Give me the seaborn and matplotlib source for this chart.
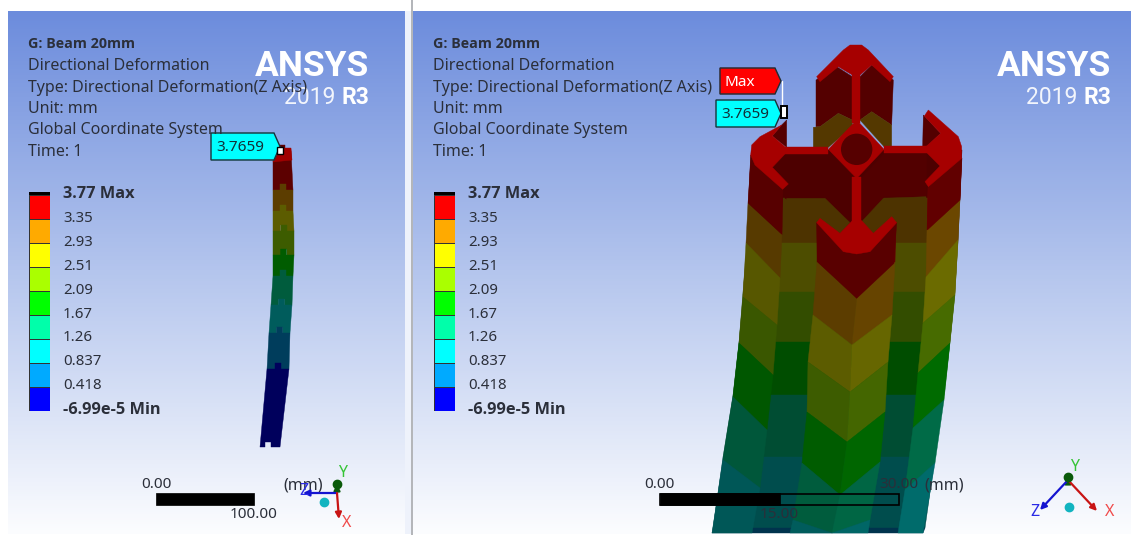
import numpy as np
import matplotlib
matplotlib.use("Agg")
import matplotlib.pyplot as plt
import seaborn as sns
from matplotlib.colors import LinearSegmentedColormap, ListedColormap
from matplotlib.patches import Polygon, Circle, Rectangle

sns.set_theme(style="white")
plt.rcParams["font.family"] = ["Noto Sans", "DejaVu Sans"]

W, H = 1131, 535
TEXT = "#2b2f3a"
BOLD_FONT = ["Open Sans", "DejaVu Sans"]

# =========================
# Data
# =========================
info_lines = [
    "Directional Deformation",
    "Type: Directional Deformation(Z Axis)",
    "Unit: mm",
    "Global Coordinate System",
    "Time: 1",
]
legend_labels = ["3.77 Max", "3.35", "2.93", "2.51", "2.09", "1.67", "1.26",
                 "0.837", "0.418", "-6.99e-5 Min"]
legend_values = [8, 7, 6, 5, 4, 3, 2, 1, 0]
contour_rgb = [(0, 0, 255), (0, 170, 255), (0, 255, 255), (0, 255, 170), (0, 255, 0),
               (170, 255, 0), (255, 255, 0), (255, 170, 0), (255, 0, 0)]
RED, ORANGE, YELLOW, LIME, GREEN, SPRING, CYAN, AZURE, BLUE = 8, 7, 6, 5, 4, 3, 2, 1, 0
band_order = [RED, ORANGE, YELLOW, LIME, GREEN, SPRING, CYAN, AZURE, BLUE]
max_probe = "3.7659"

# big beam: band limits per face, (left x, left y, right x, right y)
face_a = [(751, 155, 783, 189), (748, 203, 782, 235), (746, 243, 780, 278), (743, 297, 777, 325),
          (739, 343, 773, 375), (733, 397, 767, 430), (723, 460, 760, 488), (712, 533, 752, 533)]
face_e = [(928, 187, 962, 158), (927, 230, 960, 200), (926, 277, 958, 240), (923, 323, 955, 295),
          (918, 373, 950, 343), (913, 428, 944, 400), (905, 490, 935, 463), (898, 533, 923, 533)]
recess_y = [150, 198, 243, 292, 342, 395, 457, 528, 533]
recess_left = [752, 750, 747, 743, 739, 733, 723, 713, 712]
recess_right = [962, 960, 958, 955, 950, 944, 935, 925, 923]
chevron_left = [(817, 222), (817, 262), (813, 315), (808, 362), (807, 412), (802, 463), (793, 520), (790, 533)]
chevron_mid = [(857, 255), (857, 298), (852, 345), (850, 392), (847, 442), (840, 495), (832, 533), (832, 533)]
chevron_right = [(896, 222), (895, 262), (892, 315), (888, 362), (885, 412), (880, 462), (870, 520), (868, 533)]

# small beam: band top y, left x, right x
small_y = [148, 187, 208, 228, 252, 273, 302, 330, 366, 447]
small_left = [273, 273, 273, 273, 273, 273, 271, 269, 267, 260]
small_right = [291, 293, 293, 294, 294, 293, 292, 290, 289, 280]

# =========================
# Figure
# =========================
fig = plt.figure(figsize=(W / 100, H / 100), dpi=100, facecolor="white")


def px_axes(x0, y0, x1, y1, z=0):
    return fig.add_axes([x0 / W, 1 - y1 / H, (x1 - x0) / W, (y1 - y0) / H], zorder=z)


def backdrop(x0, x1):
    ax_bg = px_axes(x0, 11, x1, 534, 0)
    cmap = LinearSegmentedColormap.from_list("sky", ["#6c8cdc", "#b4c5ed", "#fbfcfe"])
    sns.heatmap(np.linspace(0, 1, 260).reshape(-1, 1), ax=ax_bg, cmap=cmap, vmin=0, vmax=1,
                cbar=False, xticklabels=False, yticklabels=False)
    ax_bg.set_xlabel("")
    ax_bg.set_ylabel("")


backdrop(8, 404.5)
backdrop(412.5, 1131)

ax = px_axes(0, 0, W, H, 2)
ax.set_xlim(0, W)
ax.set_ylim(H, 0)
ax.axis("off")
ax.patch.set_alpha(0)

ax.add_patch(Rectangle((404.5, 11), 6, 523, color="#eef2fb", lw=0))
ax.add_patch(Rectangle((410.5, 0), 2, H, color="#b4b6ba", lw=0))


def shade(idx, k):
    return tuple(c / 255 * k for c in contour_rgb[idx])


def poly(pts, color, z=3):
    ax.add_patch(Polygon(pts, closed=True, fc=color, ec=color, lw=0.3, zorder=z))


def crop(pts):
    # outlines traced on a 3x crop starting at (680, 30)
    return [(680 + x / 3, 30 + y / 3) for x, y in pts]


# -------------------------
# Big beam
# -------------------------
# back of the T flange
poly(crop([(408, 150), (470, 110), (517, 140), (517, 270), (475, 250), (420, 290), (408, 290)]), shade(RED, 0.33))
poly(crop([(540, 140), (575, 105), (640, 150), (635, 285), (575, 245), (540, 270)]), shade(RED, 0.33))
poly(crop([(400, 292), (420, 290), (475, 250), (517, 270), (517, 290), (445, 352), (400, 352)]), shade(ORANGE, 0.33))
poly(crop([(540, 270), (575, 245), (635, 285), (635, 350), (612, 350)]), shade(ORANGE, 0.33))
poly(crop([(277, 318), (305, 285), (320, 270), (320, 352)]), shade(RED, 0.33))
poly(crop([(730, 255), (782, 310), (740, 350), (728, 350)]), shade(RED, 0.33))

# recessed faces
for i in range(len(recess_y) - 1):
    idx = band_order[i]
    poly([(recess_left[i], recess_y[i]), (recess_right[i], recess_y[i]),
          (recess_right[i + 1], recess_y[i + 1]), (recess_left[i + 1], recess_y[i + 1])], shade(idx, 0.30))

# outer faces
for face, k in [(face_a, 0.34), (face_e, 0.42)]:
    for i in range(len(face) - 1):
        x0, y0, x1, y1 = face[i]
        x2, y2, x3, y3 = face[i + 1]
        poly([(x0, y0), (x1, y1), (x3, y3), (x2, y2)], shade(band_order[i], k), 4)

# front chevron
for i in range(len(chevron_mid) - 1):
    idx = band_order[i]
    poly([chevron_left[i], chevron_mid[i], chevron_mid[i + 1], chevron_left[i + 1]], shade(idx, 0.36), 5)
    poly([chevron_mid[i], chevron_right[i], chevron_right[i + 1], chevron_mid[i + 1]], shade(idx, 0.40), 5)

# webs under the front plate
poly(crop([(445, 372), (517, 445), (517, 575), (480, 610), (435, 560), (315, 505), (315, 372)]), shade(RED, 0.30), 4)
poly(crop([(612, 372), (543, 445), (543, 575), (580, 610), (612, 500), (740, 500), (740, 368)]), shade(RED, 0.32), 4)
poly(crop([(435, 505), (510, 578), (480, 610), (430, 570), (320, 590), (320, 505)]), shade(ORANGE, 0.30), 4)
poly(crop([(545, 575), (610, 505), (738, 500), (738, 590), (650, 620), (580, 610)]), shade(ORANGE, 0.30), 4)
poly(crop([(410, 578), (530, 672), (650, 578), (642, 700), (530, 805), (412, 695)]), shade(RED, 0.35), 5)
poly(crop([(212, 375), (308, 478), (303, 610), (205, 520)]), shade(RED, 0.34), 5)
poly(crop([(845, 385), (745, 470), (742, 600), (840, 510)]), shade(RED, 0.38), 5)

# front plate
plate = "#a60000"
plate_parts = [
    [(410, 140), (490, 60), (510, 45), (545, 45), (565, 60), (640, 140), (630, 155), (575, 105),
     (540, 135), (517, 135), (475, 110), (420, 155)],
    [(517, 130), (540, 130), (540, 280), (517, 280)],
    [(530, 270), (612, 358), (530, 445), (445, 358)],
    [(315, 350), (445, 350), (445, 372), (315, 372)],
    [(612, 348), (740, 348), (740, 368), (612, 368)],
    [(517, 440), (543, 440), (543, 580), (517, 580)],
    [(420, 565), (480, 610), (517, 572), (545, 572), (580, 610), (635, 560), (650, 578), (570, 665),
     (530, 672), (490, 665), (410, 578)],
    [(305, 285), (277, 318), (315, 350), (315, 372), (277, 412), (325, 462), (308, 478), (225, 405),
     (212, 375), (215, 345), (240, 320)],
    [(745, 240), (835, 320), (845, 350), (845, 385), (745, 470), (735, 455), (780, 408), (740, 368),
     (740, 348), (782, 310), (733, 258)],
]
for part in plate_parts:
    poly(crop(part), plate, 6)
ax.add_patch(Circle((680 + 530 / 3, 30 + 358 / 3), 15, fc="#560000", ec="#560000", zorder=7))

# -------------------------
# Small beam
# -------------------------
for i in range(len(small_y) - 1):
    xl0, xr0 = small_left[i], small_right[i]
    xl1, xr1 = small_left[i + 1], small_right[i + 1]
    xc = (xl0 + xr0) / 2
    xc1 = (xl1 + xr1) / 2
    top = [(xl0, small_y[i] + 3), (xc - 3, small_y[i] + 3), (xc - 3, small_y[i] - 3),
           (xc + 3, small_y[i] - 3), (xc + 3, small_y[i] + 3), (xr0, small_y[i] + 3)]
    bottom = [(xr1, small_y[i + 1] + 3), (xc1 + 3, small_y[i + 1] + 3), (xc1 + 3, small_y[i + 1] - 3),
              (xc1 - 3, small_y[i + 1] - 3), (xc1 - 3, small_y[i + 1] + 3), (xl1, small_y[i + 1] + 3)]
    if i == len(small_y) - 2:
        bottom = [(xr1, small_y[i + 1]), (xc1 + 1, small_y[i + 1]), (xc1 + 1, small_y[i + 1] - 5),
                  (xc1 - 5, small_y[i + 1] - 5), (xc1 - 5, small_y[i + 1]), (xl1, small_y[i + 1])]
    poly(top + bottom, shade(band_order[i], 0.36), 3)
poly([(276, 148), (291, 148), (292, 160), (273, 162)], "#a00000", 4)


# -------------------------
# Overlays shared by both views
# -------------------------
def info_block(x):
    ax.text(x, 44.5, "G: Beam 20mm", fontsize=10.3, fontweight="bold", family=BOLD_FONT, color=TEXT,
            va="center", zorder=9)
    for j, line in enumerate(info_lines):
        ax.text(x, 66.5 + j * 21.3, line, fontsize=11.5, color=TEXT, va="center", zorder=9)


def contour_legend(x):
    ax_leg = px_axes(x, 195, x + 21, 410.5, 3)
    sns.heatmap(np.array(legend_values).reshape(-1, 1), ax=ax_leg, cbar=False,
                cmap=ListedColormap([tuple(c / 255 for c in rgb) for rgb in contour_rgb]),
                vmin=-0.5, vmax=8.5, linewidths=0.5, linecolor="#333333",
                xticklabels=False, yticklabels=False)
    ax_leg.set_xlabel("")
    ax_leg.set_ylabel("")
    ax.add_patch(Rectangle((x, 192), 21, 3, color="black", lw=0, zorder=8))
    for j, label in enumerate(legend_labels):
        if j in (0, len(legend_labels) - 1):
            ax.text(x + 34, 194.5 + j * 23.9, label, fontsize=11.8, color=TEXT, va="center",
                    fontweight="bold", family=BOLD_FONT, zorder=9)
        else:
            ax.text(x + 34, 194.5 + j * 23.9, label, fontsize=10.8, color=TEXT, va="center", zorder=9)


def logo(x_right):
    ax.text(x_right, 67, "ANSYS", fontsize=25.5, fontweight="bold", color="white", ha="right", va="center",
            family=["Roboto"], zorder=8)
    ax.text(x_right, 98, "R3", fontsize=16.5, fontweight="bold", color="white", ha="right", va="center",
            family=["Roboto"], zorder=8)
    ax.text(x_right - 34, 98, "2019", fontsize=16.5, color="white", ha="right", va="center",
            family=["Roboto"], alpha=0.9, zorder=8)


def callout(x0, x1, y0, y1, fc, label, tc):
    outline = [(x0, y0), (x1 - 6, y0), (x1, (y0 + y1) / 2), (x1 - 6, y1), (x0, y1)]
    poly(outline, fc, 8)
    ax.add_patch(Polygon(outline, closed=True, fc="none", ec="#1c3038", lw=1, zorder=8))
    ax.text(x0 + 5, (y0 + y1) / 2 + 1, label, fontsize=11, color=tc, va="center", zorder=9)


for px, right in [(28, 369), (433, 1111)]:
    info_block(px)
    logo(right)
contour_legend(29)
contour_legend(434)

callout(211, 280, 133, 160, "#00ffff", max_probe, "#123038")
ax.add_patch(Rectangle((277, 147), 6, 7, fc="white", ec="black", lw=1, zorder=8))

callout(720, 781, 68, 94, "#ff0000", "Max", "white")
callout(716, 781, 100, 127, "#00ffff", max_probe, "#123038")
ax.plot([782, 782], [81, 112], color="white", lw=1, zorder=8)
ax.add_patch(Rectangle((781, 106), 6, 12, fc="white", ec="black", lw=1.4, zorder=8))

# scale bars
ax.add_patch(Rectangle((156, 493), 98, 12, fc="black", ec="black", lw=0.5, zorder=8))
ax.text(156, 484, "0.00", fontsize=11, color=TEXT, ha="center", va="center", zorder=9)
ax.text(254, 515, "100.00", fontsize=11, color=TEXT, ha="center", va="center", zorder=9)
ax.text(303, 485, "(mm)", fontsize=11.5, color=TEXT, ha="center", va="center", zorder=9)

ax.add_patch(Rectangle((660, 493.5), 239, 11, fc="none", ec="black", lw=1.2, zorder=8))
ax.add_patch(Rectangle((660, 493), 120, 12, fc="black", ec="black", lw=0.5, zorder=8))
ax.text(659, 484, "0.00", fontsize=11, color=TEXT, ha="center", va="center", zorder=9)
ax.text(779, 515, "15.00", fontsize=11, color=TEXT, ha="center", va="center", zorder=9)
ax.text(899, 484, "30.00", fontsize=11, color=TEXT, ha="center", va="center", zorder=9)
ax.text(944, 485, "(mm)", fontsize=11.5, color=TEXT, ha="center", va="center", zorder=9)


# triads
def triad(o, x_tip, y_tip, z_tip, dot, labels):
    for tip, col in [(y_tip, "#0a5a0a"), (z_tip, "#1414d0"), (x_tip, "#c81414")]:
        ax.annotate("", xy=tip, xytext=o, zorder=9,
                    arrowprops=dict(arrowstyle="-|>", lw=1.6, color=col, mutation_scale=9, shrinkA=0, shrinkB=0))
    ax.plot(*y_tip, "o", ms=6, color="#0a5a0a", zorder=9)
    ax.plot(*dot, "o", ms=6, color="#12b4c0", zorder=9)
    for (lx, ly), s, col in labels:
        ax.text(lx, ly, s, fontsize=11.5, color=col, ha="center", va="center", zorder=10)


triad((337, 493), (339, 519), (337, 484), (303, 493), (324, 502),
      [((343, 473), "Y", "#35c435"), ((304, 491), "Z", "#2a2ae6"), ((347, 523), "X", "#f04a4a")])
triad((1068, 480), (1097, 511), (1068, 477), (1040, 510), (1069, 507),
      [((1075, 467), "Y", "#35c435"), ((1035, 512), "Z", "#2a2ae6"), ((1110, 512), "X", "#f04a4a")])

fig.savefig("out.png", dpi=100)
